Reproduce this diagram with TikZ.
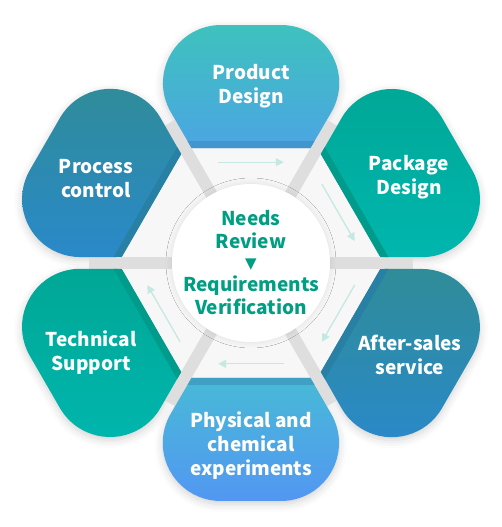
\documentclass[tikz,border=0pt]{standalone}
\usepackage{fontspec}
\setmainfont{Noto Sans CJK SC}
\newfontfamily\symfont{DejaVu Sans}
\usetikzlibrary{arrows.meta,positioning,shadows.blur}

\definecolor{pdtop}{HTML}{3EC2BD}
\definecolor{pdbot}{HTML}{4BA5E3}
\definecolor{pdedge}{HTML}{4396CB}
\definecolor{phtop}{HTML}{48BAD6}
\definecolor{phbot}{HTML}{5297F2}
\definecolor{phedge}{HTML}{40A0C3}
\definecolor{tltop}{HTML}{00A795}
\definecolor{tlbot}{HTML}{00B6AE}
\definecolor{tledge}{HTML}{009B8A}
\definecolor{bltop}{HTML}{2F8C98}
\definecolor{blbot}{HTML}{2A89C9}
\definecolor{bledge}{HTML}{2880A5}
\definecolor{spokegray}{HTML}{DEDEDE}
\definecolor{innergray}{HTML}{F7F7F7}
\definecolor{needsgreen}{HTML}{009E82}
\definecolor{flowcol}{HTML}{C3E9E2}

\tikzstyle{petaltext} = [text=white, font=\bfseries\fontsize{19}{24}\selectfont, align=center]
\tikzstyle{centretext} = [text=needsgreen, font=\bfseries\fontsize{19}{23}\selectfont, align=center]
\tikzstyle{flow} = [draw=flowcol, line width=1.3pt, -{Triangle[length=8pt,width=8pt]}]
\tikzstyle{spoke} = [draw=spokegray, line width=12pt]
\tikzstyle{soft} = [blur shadow={shadow xshift=0pt, shadow yshift=-3pt, shadow blur radius=8pt, shadow opacity=18}]

% outline of one petal, pointing in direction #1
\newcommand{\petalpath}[1]{(#1+27.34:129.46) -- (#1+28:171)
    arc[start angle=#1+120, end angle=#1, radius=58] -- (#1-7.24:239.9)
    arc[start angle=#1, end angle=#1-120, radius=58] -- (#1-27.34:129.46) -- cycle}
% petal: direction, top colour, bottom colour, edge colour
\newcommand{\petal}[4]{%
  \shade[top color=#2, bottom color=#3] \petalpath{#1};
  \fill[#4] (#1+27.34:129.46) -- (#1-27.34:129.46) -- (#1-27.5:137.5) -- (#1+27.5:137.5) -- cycle;
}

\begin{document}
\begin{tikzpicture}[x=1pt, y=1pt]
		\useasboundingbox (-251,-264) rectangle (251,263);
		% Shadows
		\path[soft] \petalpath{90};
		\path[soft] \petalpath{30};
		\path[soft] \petalpath{-30};
		\path[soft] \petalpath{-90};
		\path[soft] \petalpath{-150};
		\path[soft] \petalpath{150};
		% Background
		\fill[spokegray] (0:162) -- (60:162) -- (120:162) -- (180:162) -- (240:162) -- (300:162) -- cycle;
		\fill[innergray] (0:132.8) -- (60:132.8) -- (120:132.8) -- (180:132.8) -- (240:132.8) -- (300:132.8) -- cycle;
		\draw[spoke] (0,0) -- (0:162);
		\draw[spoke] (0,0) -- (60:162);
		\draw[spoke] (0,0) -- (120:162);
		\draw[spoke] (0,0) -- (180:162);
		\draw[spoke] (0,0) -- (240:162);
		\draw[spoke] (0,0) -- (300:162);
		% Petals
		\petal{90}{pdtop}{pdbot}{pdedge}
		\petal{30}{tltop}{tlbot}{tledge}
		\petal{-30}{bltop}{blbot}{bledge}
		\petal{-90}{phtop}{phbot}{phedge}
		\petal{-150}{tltop}{tlbot}{tledge}
		\petal{150}{bltop}{blbot}{bledge}
		\fill[white, blur shadow={shadow xshift=0pt, shadow yshift=0pt, shadow blur radius=6pt, shadow opacity=10}] (0,0) circle (79);
		% Nodes
		\node (product) [petaltext] at (0,177) {Product\\Design};
		\node (package) [petaltext] at (158,86) {Package\\Design};
		\node (aftersales) [petaltext] at (159,-92) {After-sales\\service};
		\node (physical) [petaltext] at (0,-183) {Physical and\\chemical\\experiments};
		\node (technical) [petaltext] at (-160,-90) {Technical\\Support};
		\node (process) [petaltext] at (-155,84) {Process\\control};
		\node (tri) [text=needsgreen, font=\symfont\fontsize{15}{15}\selectfont] at (0,-2) {▼};
		\node (needs) [centretext] at (0,33) {Needs\\Review};
		\node (verify) [centretext] at (0,-32) {Requirements\\Verification};
		% Arrows
		\coordinate (f1a) at (108:106); \coordinate (f1b) at (72:106);
		\coordinate (f2a) at (48:106);  \coordinate (f2b) at (12:106);
		\coordinate (f3a) at (-12:106); \coordinate (f3b) at (-48:106);
		\coordinate (f4a) at (-72:106); \coordinate (f4b) at (-108:106);
		\coordinate (f5a) at (-132:106); \coordinate (f5b) at (-168:106);
		\draw [flow] (f1a) -- (f1b);
		\draw [flow] (f2a) -- (f2b);
		\draw [flow] (f3a) -- (f3b);
		\draw [flow] (f4a) -- (f4b);
		\draw [flow] (f5a) -- (f5b);
	\end{tikzpicture}
\end{document}
